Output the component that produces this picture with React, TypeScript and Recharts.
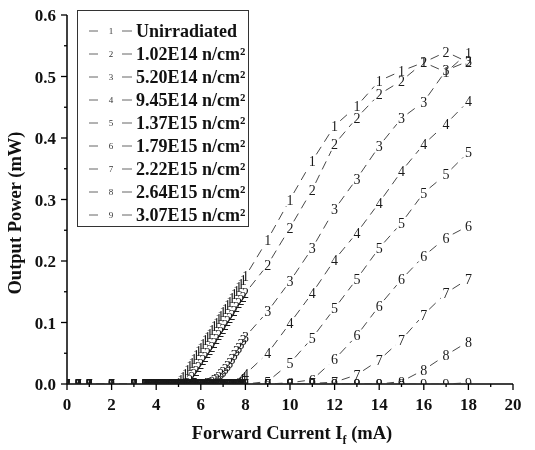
import React from 'react';
import { LineChart, Line, XAxis, YAxis, Legend } from 'recharts';

// ---- data ----
const xLow = [0, 0.5, 1, 2, 3];
const xDense = [
  3.5, 3.6, 3.7, 3.8, 3.9, 4.0, 4.1, 4.2, 4.3, 4.4, 4.5, 4.6, 4.7, 4.8, 4.9,
  5.0, 5.1, 5.2, 5.3, 5.4, 5.5, 5.6, 5.7, 5.8, 5.9, 6.0, 6.1, 6.2, 6.3, 6.4,
  6.5, 6.6, 6.7, 6.8, 6.9, 7.0, 7.1, 7.2, 7.3, 7.4, 7.5, 7.6, 7.7, 7.8, 7.9, 8.0,
];
const xHigh = [9, 10, 11, 12, 13, 14, 15, 16, 17, 18];

const lowZeros = [0, 0, 0, 0, 0];
const denseZeros = [
  0, 0, 0, 0, 0, 0, 0, 0, 0, 0, 0, 0, 0, 0, 0, 0, 0, 0, 0, 0, 0, 0, 0,
  0, 0, 0, 0, 0, 0, 0, 0, 0, 0, 0, 0, 0, 0, 0, 0, 0, 0, 0, 0, 0, 0, 0,
];

const s1Dense = [
  0, 0, 0, 0, 0, 0, 0, 0, 0, 0, 0, 0, 0, 0, 0,
  0.002, 0.006, 0.011, 0.017, 0.023, 0.029, 0.035, 0.041, 0.047, 0.053,
  0.059, 0.065, 0.071, 0.077, 0.082, 0.088, 0.094, 0.099, 0.105, 0.111,
  0.117, 0.122, 0.128, 0.134, 0.140, 0.146, 0.152, 0.158, 0.163, 0.169, 0.175,
];
const s2Dense = [
  0, 0, 0, 0, 0, 0, 0, 0, 0, 0, 0, 0, 0, 0, 0, 0, 0, 0, 0,
  0.002, 0.006, 0.011, 0.016, 0.022, 0.027, 0.033, 0.039, 0.044, 0.050,
  0.056, 0.061, 0.067, 0.073, 0.079, 0.084, 0.090, 0.096, 0.102, 0.107,
  0.113, 0.119, 0.125, 0.131, 0.136, 0.142, 0.148,
];
const s3Dense = [
  0, 0, 0, 0, 0, 0, 0, 0, 0, 0, 0, 0, 0, 0, 0, 0, 0, 0, 0, 0, 0, 0, 0, 0, 0, 0, 0, 0,
  0.001, 0.002, 0.004, 0.006, 0.009, 0.012, 0.016, 0.020, 0.025, 0.030,
  0.035, 0.041, 0.047, 0.053, 0.059, 0.065, 0.071, 0.077,
];
const s4Dense = [
  0, 0, 0, 0, 0, 0, 0, 0, 0, 0, 0, 0, 0, 0, 0, 0, 0, 0, 0, 0,
  0, 0, 0, 0, 0, 0, 0, 0, 0, 0, 0, 0, 0, 0, 0, 0, 0, 0, 0, 0, 0,
  0.002, 0.004, 0.008, 0.012, 0.016,
];

const s1High = [0.235, 0.300, 0.363, 0.420, 0.452, 0.493, 0.509, 0.523, 0.507, 0.539];
const s2High = [0.194, 0.254, 0.316, 0.390, 0.433, 0.471, 0.493, 0.523, 0.540, 0.523];
const s3High = [0.118, 0.167, 0.221, 0.284, 0.334, 0.387, 0.432, 0.459, 0.510, 0.525];
const s4High = [0.050, 0.099, 0.148, 0.202, 0.246, 0.295, 0.346, 0.390, 0.423, 0.460];
const s5High = [0.004, 0.034, 0.075, 0.123, 0.171, 0.221, 0.262, 0.311, 0.341, 0.377];
const s6High = [0.000, 0.002, 0.007, 0.040, 0.079, 0.127, 0.170, 0.208, 0.238, 0.257];
const s7High = [0.000, 0.000, 0.001, 0.003, 0.015, 0.039, 0.072, 0.113, 0.148, 0.171];
const s8High = [0.000, 0.000, 0.000, 0.000, 0.000, 0.000, 0.004, 0.023, 0.047, 0.069];
const s9High = [0.000, 0.000, 0.000, 0.000, 0.000, 0.000, 0.000, 0.000, 0.000, 0.002];

const seriesMarks = ['1', '2', '3', '4', '5', '6', '7', '8', '9'];
const legendLabels = [
  'Unirradiated',
  '1.02E14 n/cm²',
  '5.20E14 n/cm²',
  '9.45E14 n/cm²',
  '1.37E15 n/cm²',
  '1.79E15 n/cm²',
  '2.22E15 n/cm²',
  '2.64E15 n/cm²',
  '3.07E15 n/cm²',
];

const xTicks = [0, 1, 2, 3, 4, 5, 6, 7, 8, 9, 10, 11, 12, 13, 14, 15, 16, 17, 18, 19, 20];
const yTicks = [0, 0.05, 0.1, 0.15, 0.2, 0.25, 0.3, 0.35, 0.4, 0.45, 0.5, 0.55, 0.6];

// ---- build ----
const build = (xs: number[], ys: number[]) => xs.map((x, i) => ({ x, y: ys[i] }));
const allX = [...xLow, ...xDense, ...xHigh];

const seriesData = [
  build(allX, [...lowZeros, ...s1Dense, ...s1High]),
  build(allX, [...lowZeros, ...s2Dense, ...s2High]),
  build(allX, [...lowZeros, ...s3Dense, ...s3High]),
  build(allX, [...lowZeros, ...s4Dense, ...s4High]),
  build(allX, [...lowZeros, ...denseZeros, ...s5High]),
  build(allX, [...lowZeros, ...denseZeros, ...s6High]),
  build(allX, [...lowZeros, ...denseZeros, ...s7High]),
  build(allX, [...lowZeros, ...denseZeros, ...s8High]),
  build(allX, [...lowZeros, ...denseZeros, ...s9High]),
];

const SERIF = '"Liberation Serif", "Times New Roman", serif';

const makeDot = (label: string) => (props: any) => {
  const { cx, cy, index, points } = props;
  if (cx == null || cy == null) return <g key={`e-${index}`} />;
  const next = points ? points[index + 1] : null;
  let seg: React.ReactNode = null;
  if (next) {
    const dx = next.x - cx;
    const dy = next.y - cy;
    const len = Math.hypot(dx, dy);
    const gap = 7.5;
    if (len > 2 * gap + 3) {
      const ux = dx / len;
      const uy = dy / len;
      seg = (
        <line
          x1={cx + ux * gap}
          y1={cy + uy * gap}
          x2={next.x - ux * gap}
          y2={next.y - uy * gap}
          stroke="#333"
          strokeWidth={0.9}
          strokeDasharray="9 6"
        />
      );
    }
  }
  return (
    <g key={`d-${index}`}>
      {seg}
      <text x={cx} y={cy} dy="0.36em" textAnchor="middle" fontSize={14} fontFamily={SERIF} fill="#1a1a1a">
        {label}
      </text>
    </g>
  );
};

const XTick = (props: any) => {
  const { x, y, payload } = props;
  const v = payload.value;
  const major = v % 2 === 0;
  return (
    <g>
      <line x1={x} x2={x} y1={y} y2={y + (major ? 6 : 3)} stroke="#000" strokeWidth={1.3} />
      {major && (
        <text x={x} y={y + 26} textAnchor="middle" fontSize={17} fontWeight="bold" fontFamily={SERIF} fill="#111">
          {v}
        </text>
      )}
    </g>
  );
};

const YTick = (props: any) => {
  const { x, y, payload } = props;
  const v = payload.value;
  const major = Math.round(v * 100) % 10 === 0;
  return (
    <g>
      <line x1={x} x2={x - (major ? 6 : 3)} y1={y} y2={y} stroke="#000" strokeWidth={1.3} />
      {major && (
        <text x={x - 11} y={y} dy="0.36em" textAnchor="end" fontSize={17} fontWeight="bold" fontFamily={SERIF} fill="#111">
          {v.toFixed(1)}
        </text>
      )}
    </g>
  );
};

const XTitle = () => (
  <text x={292} y={439} textAnchor="middle" fontSize={18.5} fontWeight="bold" fontFamily={SERIF} fill="#111">
    Forward Current I
    <tspan fontSize={12} dy={5}>f</tspan>
    <tspan dy={-5}> (mA)</tspan>
  </text>
);

const YTitle = () => (
  <text
    x={15}
    y={213}
    transform="rotate(-90 15 213)"
    dy="0.35em"
    textAnchor="middle"
    fontSize={18.5}
    fontWeight="bold"
    fontFamily={SERIF}
    fill="#111"
  >
    Output Power (mW)
  </text>
);

const LegendBox = () => (
  <div
    style={{
      width: 172,
      height: 217,
      border: '1px solid #333',
      background: '#fff',
      boxSizing: 'border-box',
      paddingTop: 8,
      fontFamily: SERIF,
    }}
  >
    {legendLabels.map((lab, i) => (
      <div key={lab} style={{ height: 23, display: 'flex', alignItems: 'center', whiteSpace: 'nowrap' }}>
        <svg width={58} height={20} style={{ flex: 'none' }}>
          <line x1={11} x2={20} y1={10} y2={10} stroke="#666" strokeWidth={1} />
          <text x={33} y={10} dy="0.35em" textAnchor="middle" fontSize={9} fontFamily={SERIF} fill="#333">
            {seriesMarks[i]}
          </text>
          <line x1={44} x2={54} y1={10} y2={10} stroke="#666" strokeWidth={1} />
        </svg>
        <span style={{ fontSize: 18, fontWeight: 'bold', color: '#111', lineHeight: '20px' }}>{lab}</span>
      </div>
    ))}
  </div>
);

export default function App() {
  return (
    <div style={{ position: 'absolute', left: 0, top: 0, width: 535, height: 450, willChange: 'transform' }}>
      <LineChart width={535} height={450} margin={{ top: 15, right: 22, bottom: 0, left: 0 }}>
        <XAxis
          dataKey="x"
          type="number"
          domain={[0, 20]}
          ticks={xTicks}
          interval={0}
          allowDataOverflow
          height={66}
          tickSize={0}
          tickMargin={0}
          tick={<XTick />}
          axisLine={{ stroke: '#000', strokeWidth: 1.5 }}
          label={<XTitle />}
        />
        <YAxis
          dataKey="y"
          type="number"
          domain={[0, 0.6]}
          ticks={yTicks}
          interval={0}
          allowDataOverflow
          width={67}
          tickSize={0}
          tickMargin={0}
          tick={<YTick />}
          axisLine={{ stroke: '#000', strokeWidth: 1.5 }}
          label={<YTitle />}
        />
        <Legend
          layout="vertical"
          align="center"
          verticalAlign="middle"
          content={<LegendBox />}
          wrapperStyle={{ left: 77, top: 10, width: 172, height: 217 }}
        />
        {seriesData.map((d, i) => (
          <Line
            key={seriesMarks[i]}
            data={d}
            dataKey="y"
            name={legendLabels[i]}
            stroke="none"
            isAnimationActive={false}
            dot={makeDot(seriesMarks[i])}
            activeDot={false}
          />
        ))}
      </LineChart>
    </div>
  );
}
